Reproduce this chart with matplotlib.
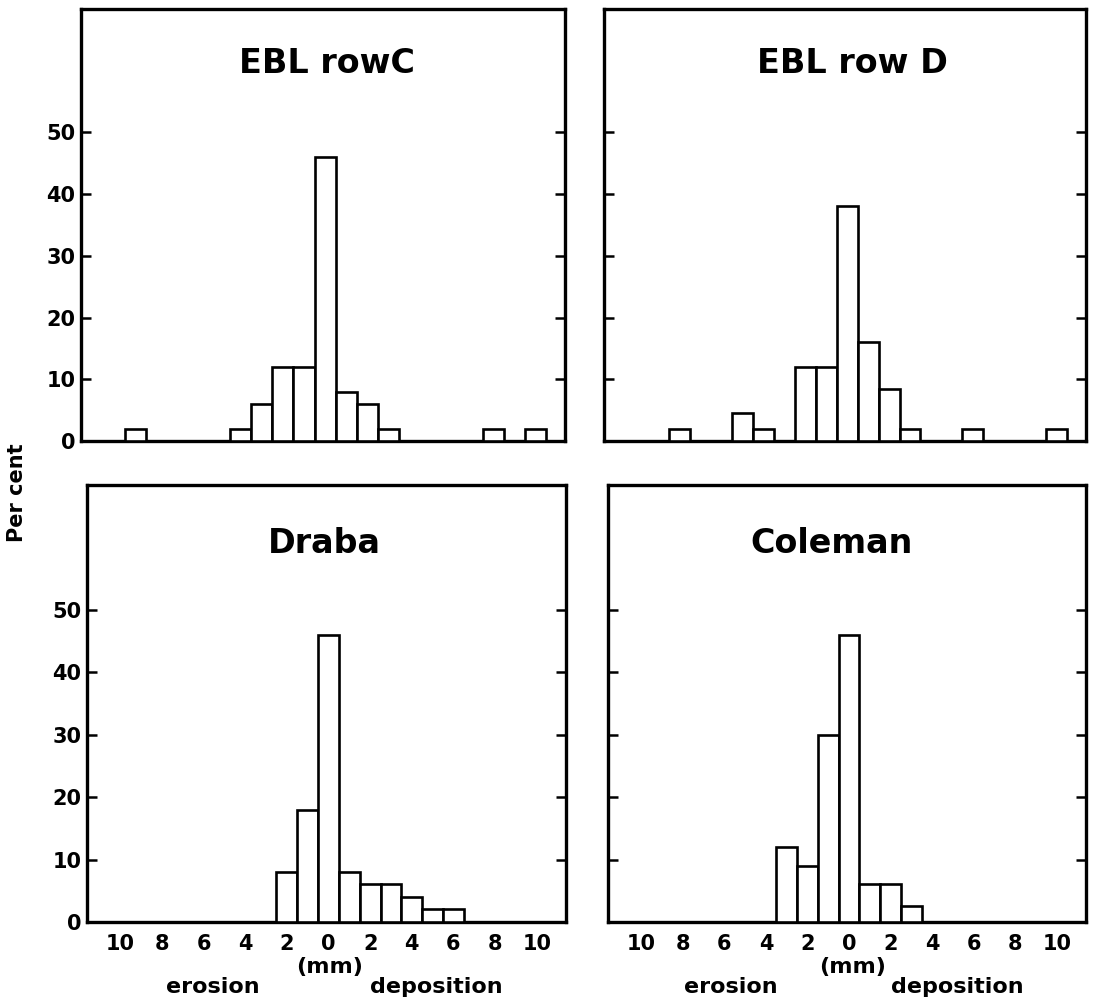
import numpy as np
import matplotlib.pyplot as plt

plt.rcParams['font.family'] = ['DejaVu Sans']
plt.rcParams['font.weight'] = 'bold'

# surface change in mm (negative = erosion, positive = deposition) and per cent of pins
ebl_c_mm = [-9, -4, -3, -2, -1, 0, 1, 2, 3, 8, 10]
ebl_c_pct = [2, 2, 6, 12, 12, 46, 8, 6, 2, 2, 2]

ebl_d_mm = [-8, -5, -4, -2, -1, 0, 1, 2, 3, 6, 10]
ebl_d_pct = [2, 4.5, 2, 12, 12, 38, 16, 8.5, 2, 2, 2]

draba_mm = [-2, -1, 0, 1, 2, 3, 4, 5, 6]
draba_pct = [8, 18, 46, 8, 6, 6, 4, 2, 2]

coleman_mm = [-3, -2, -1, 0, 1, 2, 3]
coleman_pct = [12, 9, 30, 46, 6, 6, 2.5]

titles = ['EBL rowC', 'EBL row D', 'Draba', 'Coleman']
xtick_pos = np.arange(-10, 11, 2)
xtick_lab = [str(abs(v)) for v in xtick_pos]
ytick_pos = [0, 10, 20, 30, 40, 50]

fig = plt.figure(figsize=(10.97, 9.98), dpi=100)

# axes boxes [left, bottom, width, height]
boxes = [[0.0738, 0.5581, 0.4412, 0.4329],
         [0.5506, 0.5581, 0.4394, 0.4329],
         [0.0793, 0.0762, 0.4366, 0.4379],
         [0.5542, 0.0762, 0.4357, 0.4379]]
data = [(ebl_c_mm, ebl_c_pct), (ebl_d_mm, ebl_d_pct),
        (draba_mm, draba_pct), (coleman_mm, coleman_pct)]
title_xy = [(0.508, 0.873), (0.515, 0.873), (0.495, 0.867), (0.467, 0.867)]

for i in range(4):
    ax = fig.add_axes(boxes[i])
    mm, pct = data[i]
    ax.bar(mm, pct, width=1.0, facecolor='white', edgecolor='black',
           linewidth=1.9, zorder=3)
    ax.set_xlim(-11.6, 11.4)
    ax.set_ylim(0, 70)
    for s in ax.spines.values():
        s.set_linewidth(2.4)
    ax.set_yticks(ytick_pos)
    ax.tick_params(axis='y', direction='in', length=7, width=1.8,
                   left=True, right=True, labelsize=15, pad=4)
    if i % 2 == 1:
        ax.set_yticklabels([])
    ax.set_xticks(xtick_pos)
    if i < 2:
        ax.set_xticklabels([])
    else:
        ax.set_xticklabels(xtick_lab)
    ax.tick_params(axis='x', length=0, labelsize=15, pad=9)
    ax.text(title_xy[i][0], title_xy[i][1], titles[i], transform=ax.transAxes,
            ha='center', va='center', fontsize=24, fontweight='bold')

# axis words under the lower panels
for cx, ex, dx in [(0.300, 0.1937, 0.398), (0.777, 0.6664, 0.8724)]:
    fig.text(cx, 0.0255, '(mm)', ha='center', va='baseline', fontsize=16)
    fig.text(ex, 0.005, 'erosion', ha='center', va='baseline', fontsize=16)
    fig.text(dx, 0.005, 'deposition', ha='center', va='baseline', fontsize=16)

fig.text(0.0155, 0.506, 'Per cent', rotation=90, ha='center', va='center',
         fontsize=15)

plt.savefig('out.png', dpi=100)
